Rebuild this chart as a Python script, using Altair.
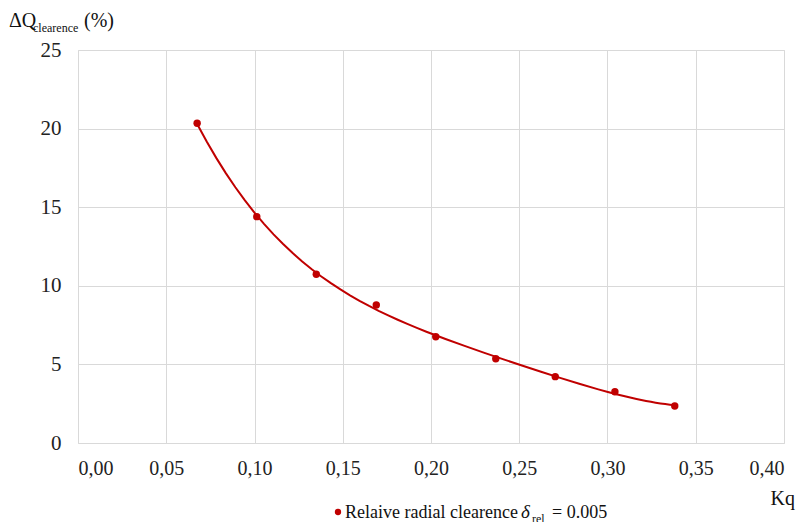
import altair as alt
import pandas as pd

kq = [0.0675, 0.1013, 0.135, 0.169, 0.2027, 0.2367, 0.2704, 0.3042, 0.3381]
dq = [20.34, 14.40, 10.73, 8.78, 6.76, 5.36, 4.22, 3.26, 2.35]
x_ticks = [0, 0.05, 0.10, 0.15, 0.20, 0.25, 0.30, 0.35, 0.40]
y_ticks = [0, 5, 10, 15, 20, 25]

df = pd.DataFrame({"kq": kq, "dq": dq})

RED = "#c00000"
SERIF = "Liberation Serif, serif"
W, H = 706, 393

xs = alt.Scale(domain=[0, 0.4], nice=False, zero=False)
ys = alt.Scale(domain=[0, 25], nice=False)

x_axis = alt.Axis(values=x_ticks, title=None, grid=True, ticks=False, domain=False,
                  labelExpr="replace(format(datum.value, '.2f'), '.', ',')",
                  labelFont=SERIF, labelFontSize=20, labelColor="#222",
                  labelPadding=15, gridColor="#d9d9d9")
y_axis = alt.Axis(values=y_ticks, title=None, grid=True, ticks=False, domain=False,
                  labelFont=SERIF, labelFontSize=21, labelColor="#222",
                  labelPadding=17, gridColor="#d9d9d9")

base = alt.Chart(df)

pts = base.mark_circle(size=55, color=RED, opacity=1).encode(
    x=alt.X("kq:Q", scale=xs, axis=x_axis),
    y=alt.Y("dq:Q", scale=ys, axis=y_axis),
)

fit = base.transform_regression("kq", "dq", method="poly", order=4).mark_line(
    color=RED, strokeWidth=2
).encode(
    x=alt.X("kq:Q", scale=xs),
    y=alt.Y("dq:Q", scale=ys),
)

def txt(s, x, y, size, style="normal", align="left"):
    return alt.Chart(pd.DataFrame({"t": [s]})).mark_text(
        font=SERIF, fontSize=size, fontStyle=style, align=align,
        baseline="alphabetic", color="#111"
    ).encode(x=alt.value(x), y=alt.value(y), text="t:N")

ox, oy = 78, 50
texts = [
    txt("ΔQ", 9 - ox, 27 - oy, 20),
    txt("clearence", 33 - ox, 32 - oy, 12),
    txt("(%)", 84 - ox, 27 - oy, 20),
    txt("Kq", 795 - ox, 505 - oy, 20, align="right"),
    txt("Relaive radial clearence", 345 - ox, 518 - oy, 18),
    txt("δ", 521 - ox, 518 - oy, 19, style="italic"),
    txt("rel", 532 - ox, 523 - oy, 12),
    txt("= 0.005", 552 - ox, 518 - oy, 18),
]

dot = alt.Chart(pd.DataFrame({"a": [1]})).mark_circle(size=40, color=RED, opacity=1).encode(
    x=alt.value(338 - ox), y=alt.value(512 - oy)
)

chart = alt.layer(fit, pts, dot, *texts).properties(
    width=W, height=H,
    autosize=alt.AutoSizeParams(type="none"),
    padding={"left": 70, "top": 42, "right": 12, "bottom": 80},
).configure_view(stroke=None).configure(font=SERIF)

chart.save("out.html", embed_options={"renderer": "svg", "actions": False})
